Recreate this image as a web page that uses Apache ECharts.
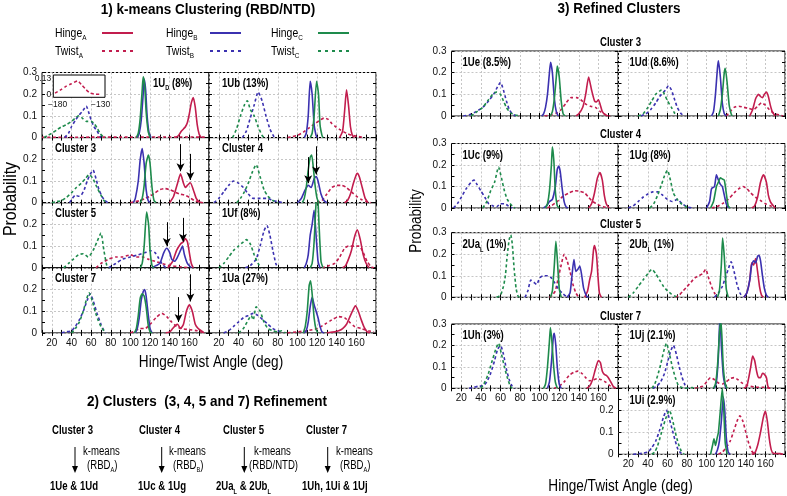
<!DOCTYPE html>
<html><head><meta charset="utf-8">
<script src="https://cdn.jsdelivr.net/npm/echarts@6/dist/echarts.min.js"></script>
<style>html,body{margin:0;padding:0;background:#fff}#c{width:787px;height:496px}</style>
</head><body><div id="c"></div><script>
const FONT = "'Liberation Sans',Arial,sans-serif";
const CA = '#c21d4e', CB = '#3b31b0', CC = '#1e8b4c';
const GRIDC = '#c6c6c6';

// ---- Section 1: k-means clusters (x = angle deg, y = probability) ----
const D1_hA = [[146,0],[149,0.01],[152,0.03],[154,0.04],[156,0.05],[158,0.07],[160,0.11],[162,0.16],[164,0.185],[166,0.14],[168,0.06],[170,0.015],[172,0]];
const D1_tA = [[10,0.001],[60,0.002],[100,0.002],[140,0.003],[178,0.002]];
const D1_hB = [[107,0],[109,0.02],[111,0.08],[113,0.2],[114,0.27],[115.5,0.22],[117,0.1],[119,0.02],[121,0]];
const D1_tB = [[33,0],[37,0.02],[40,0.05],[44,0.08],[47,0.1],[51,0.12],[55,0.145],[58,0.11],[60,0.08],[63,0.05],[66,0.03],[70,0]];
const D1_hC = [[106,0],[108,0.02],[110,0.09],[112,0.22],[113,0.28],[114.5,0.24],[116,0.12],[118,0.03],[120,0]];
const D1_tC = [[12,0],[16,0.01],[20,0.02],[25,0.035],[30,0.05],[35,0.06],[40,0.075],[44,0.09],[47,0.1],[51,0.09],[55,0.075],[60,0.075],[63,0.065],[66,0.045],[69,0.02],[72,0.005],[75,0]];
const D1_inset_tA = [[-183,0.01],[-176,0.04],[-170,0.07],[-164,0.09],[-157,0.115],[-152,0.08],[-147,0.04],[-142,0.01],[-136,0.002],[-130,0.002]];
const insetXTicks = [-180,-130];
const insetYTicks = [0,0.13];

const Ub_hA = [[143,0],[146,0.03],[148,0.12],[150,0.22],[152,0.15],[154,0.05],[156,0.01],[158,0]];
const Ub_tA = [[90,0],[95,0.005],[100,0.01],[106,0.025],[112,0.045],[118,0.065],[123,0.08],[127,0.09],[131,0.085],[135,0.065],[139,0.05],[144,0.035],[150,0.02],[156,0.01],[162,0.005],[168,0]];
const Ub_hB = [[107,0],[109,0.02],[111,0.1],[113,0.26],[115,0.2],[117,0.06],[119,0.01],[120,0]];
const Ub_tB = [[44,0],[48,0.03],[52,0.09],[56,0.15],[60,0.21],[64,0.17],[68,0.1],[72,0.04],[76,0.005],[78,0]];
const Ub_hC = [[113,0],[115,0.02],[117,0.1],[119.5,0.26],[121.5,0.2],[123,0.06],[125,0.01],[126,0]];
const Ub_tC = [[34,0],[38,0.04],[42,0.1],[46,0.15],[49,0.17],[52,0.13],[56,0.1],[60,0.05],[64,0.01],[66,0]];

const C3_hA = [[140,0],[144,0.03],[148,0.09],[151,0.133],[154,0.09],[156,0.07],[158,0.08],[161,0.092],[164,0.06],[167,0.02],[170,0.005],[173,0]];
const C3_tA = [[100,0],[105,0.005],[110,0.01],[115,0.02],[120,0.03],[125,0.045],[130,0.06],[135,0.065],[140,0.06],[145,0.05],[150,0.04],[155,0.035],[160,0.025],[165,0.01],[170,0.003],[174,0]];
const C3_hB = [[103,0],[105,0.02],[108,0.1],[110,0.2],[112,0.25],[114,0.18],[116,0.06],[118,0.01],[120,0]];
const C3_tB = [[38,0],[41,0.02],[44,0.035],[47,0.03],[50,0.035],[53,0.06],[56,0.1],[59,0.13],[62,0.15],[65,0.11],[68,0.06],[71,0.03],[74,0.01],[77,0]];
const C3_hC = [[110,0],[112,0.02],[114,0.08],[116,0.18],[118.3,0.22],[120,0.18],[122,0.07],[124,0.01],[126,0]];
const C3_tC = [[20,0],[25,0.005],[30,0.01],[35,0.025],[40,0.045],[45,0.07],[50,0.09],[54,0.11],[58,0.13],[62,0.11],[66,0.07],[70,0.035],[73,0.01],[76,0]];
const C3_arrows = [[151,0.27,0.145],[161,0.225,0.105]];

const C4_hA = [[148,0],[151,0.01],[154,0.04],[157,0.09],[160,0.13],[161,0.135],[163,0.12],[166,0.07],[169,0.02],[172,0]];
const C4_tA = [[120,0],[125,0.01],[130,0.04],[135,0.07],[140,0.08],[145,0.08],[150,0.07],[155,0.05],[160,0.03],[165,0.015],[170,0.005],[175,0]];
const C4_hB = [[100,0],[104,0.02],[108,0.06],[111,0.08],[114,0.07],[117,0.11],[119,0.12],[121,0.1],[124,0.04],[127,0.01],[130,0]];
const C4_tB = [[15,0],[20,0.02],[25,0.05],[30,0.08],[35,0.1],[40,0.09],[45,0.07],[50,0.04],[55,0.02],[60,0.02],[65,0.02],[70,0.02],[75,0.01],[80,0.005],[85,0]];
const C4_hC = [[105,0],[107,0.02],[109,0.07],[111,0.15],[113,0.21],[114.5,0.22],[116,0.17],[118,0.08],[120,0.02],[122,0]];
const C4_tC = [[38,0],[42,0.02],[46,0.05],[50,0.09],[54,0.14],[58,0.175],[62,0.12],[66,0.06],[70,0.03],[75,0.01],[80,0]];
const C4_arrows = [[111,0.21,0.09],[119,0.26,0.13]];

const C5_hA = [[138,0],[143,0.03],[147,0.08],[151,0.11],[154,0.12],[156,0.135],[158,0.12],[160,0.07],[162,0.02],[164,0]];
const C5_tA = [[65,0],[70,0.02],[78,0.04],[85,0.05],[92,0.05],[100,0.06],[106,0.05],[112,0.05],[118,0.04],[125,0.03],[132,0.02],[140,0.01],[150,0.005],[160,0]];
const C5_hB = [[122,0],[126,0.01],[130,0.02],[134,0.07],[137,0.09],[140,0.07],[142,0.04],[145,0.03],[148,0.05],[151,0.08],[153,0.1],[155,0.06],[158,0.02],[162,0]];
const C5_tB = [[78,0],[85,0.02],[92,0.04],[100,0.05],[108,0.06],[115,0.07],[120,0.08],[125,0.07],[128,0.05],[132,0.02],[136,0]];
const C5_hC = [[110,0],[112,0.02],[114,0.1],[116.5,0.257],[118.5,0.2],[120,0.08],[122,0.01],[124,0]];
const C5_tC = [[32,0],[37,0.02],[42,0.04],[47,0.06],[52,0.065],[57,0.05],[62,0.08],[66,0.12],[70,0.16],[73,0.08],[76,0.01],[78,0]];
const C5_arrows = [[137,0.21,0.1],[153.5,0.23,0.12]];

const Uf_hA = [[146,0],[149,0.01],[152,0.04],[155,0.08],[158,0.14],[161,0.175],[164,0.13],[167,0.06],[170,0.02],[173,0]];
const Uf_tA = [[125,0],[132,0.01],[138,0.02],[143,0.05],[148,0.09],[152,0.1],[158,0.1],[163,0.1],[167,0.07],[171,0.03],[175,0.005],[178,0]];
const Uf_hB = [[107,0],[109,0.02],[111,0.06],[113,0.15],[115,0.2],[117,0.265],[119,0.15],[121,0.03],[123,0]];
const Uf_tB = [[47,0],[52,0.01],[58,0.04],[62,0.1],[66,0.17],[69,0.195],[72,0.15],[75,0.08],[78,0.02],[80,0]];
const Uf_hC = [[113,0],[115,0.02],[117,0.12],[119,0.3],[120.5,0.34],[122,0.2],[124,0.03],[126,0]];
const Uf_tC = [[20,0],[25,0.02],[30,0.05],[35,0.08],[40,0.1],[45,0.12],[48,0.13],[52,0.11],[56,0.06],[60,0.02],[63,0]];

const C7_hA = [[136,0],[140,0.005],[143,0.02],[146,0.035],[148,0.04],[151,0.02],[154,0.04],[157,0.1],[160,0.13],[163,0.1],[166,0.04],[169,0.02],[172,0.01],[175,0]];
const C7_tA = [[100,0],[105,0.01],[110,0.02],[115,0.02],[120,0.04],[126,0.07],[132,0.09],[137,0.075],[142,0.05],[147,0.03],[152,0.02],[160,0.015],[168,0.01],[175,0]];
const C7_hB = [[105,0],[107,0.02],[109,0.07],[111,0.15],[113,0.19],[114.5,0.2],[116,0.17],[118,0.09],[120,0.02],[122,0]];
const C7_tB = [[30,0],[35,0.005],[40,0.01],[44,0.03],[48,0.06],[52,0.1],[56,0.15],[59,0.18],[62,0.15],[66,0.09],[70,0.04],[73,0.01],[75,0]];
const C7_hC = [[104,0],[106,0.02],[108,0.08],[110,0.16],[112,0.18],[114,0.17],[116,0.12],[118,0.04],[120,0.005],[122,0]];
const C7_tC = [[40,0],[44,0.02],[48,0.05],[52,0.1],[55,0.15],[58,0.185],[61,0.15],[64,0.1],[67,0.06],[70,0.03],[73,0.01],[75,0]];
const C7_arrows = [[149,0.165,0.05],[161,0.27,0.145]];

const Ua_hA = [[130,0],[134,0.003],[138,0.005],[142,0.01],[146,0.02],[150,0.04],[153,0.07],[156,0.1],[159,0.125],[162,0.1],[165,0.06],[168,0.025],[171,0.005],[174,0]];
const Ua_tA = [[90,0],[100,0.005],[110,0.01],[120,0.02],[128,0.04],[135,0.06],[142,0.075],[148,0.07],[153,0.05],[158,0.03],[165,0.02],[172,0.01],[178,0.005]];
const Ua_hB = [[107,0],[109,0.01],[111,0.05],[113,0.12],[115,0.165],[117,0.13],[119,0.1],[121,0.07],[123,0.03],[125,0.005],[127,0]];
const Ua_tB = [[25,0],[30,0.01],[35,0.03],[40,0.05],[45,0.07],[50,0.08],[55,0.09],[60,0.08],[65,0.06],[70,0.04],[75,0.02],[80,0.01],[85,0]];
const Ua_hC = [[106,0],[108,0.03],[110,0.1],[112,0.22],[113.4,0.24],[115,0.18],[117,0.07],[119,0.015],[121,0]];
const Ua_tC = [[40,0],[45,0.02],[50,0.06],[53,0.08],[55,0.06],[58,0.12],[62,0.1],[66,0.05],[70,0.02],[75,0.01],[80,0.005],[84,0.01],[88,0]];

// ---- Section 3: refined clusters ----
const Ue_hA = [[137,0],[140,0.01],[144,0.04],[147,0.1],[150,0.18],[153,0.12],[156,0.07],[158,0.065],[160,0.075],[162,0.05],[164,0.02],[167,0.005],[170,0]];
const Ue_tA = [[105,0],[112,0.005],[118,0.015],[122,0.03],[127,0.06],[132,0.085],[138,0.085],[142,0.075],[147,0.055],[152,0.045],[157,0.04],[162,0.02],[168,0.005],[172,0]];
const Ue_hB = [[102,0],[104,0.01],[106,0.04],[108,0.1],[110,0.2],[111.2,0.248],[113,0.2],[115,0.08],[117,0.02],[119,0]];
const Ue_tB = [[22,0],[28,0.005],[35,0.02],[42,0.04],[48,0.07],[53,0.1],[57,0.135],[60,0.155],[63,0.12],[66,0.07],[69,0.03],[72,0.01],[76,0]];
const Ue_hC = [[111,0],[113,0.02],[115,0.08],[117,0.18],[118,0.23],[120,0.18],[122,0.07],[124,0.01],[126,0]];
const Ue_tC = [[30,0],[36,0.02],[42,0.04],[47,0.07],[52,0.1],[56,0.11],[60,0.1],[63,0.07],[66,0.04],[70,0.015],[75,0.005],[80,0]];

const Ud_hA = [[144,0],[147,0.03],[150,0.08],[153,0.1],[155,0.09],[157,0.085],[159,0.1],[161,0.11],[163,0.09],[165,0.05],[167,0.02],[170,0]];
const Ud_tA = [[120,0],[124,0.02],[128,0.04],[133,0.045],[138,0.04],[143,0.035],[148,0.03],[152,0.045],[156,0.06],[160,0.05],[164,0.03],[168,0.015],[174,0.005],[178,0]];
const Ud_hB = [[105,0],[107,0.02],[109,0.1],[111,0.22],[112,0.255],[114,0.18],[116,0.06],[118,0.01],[120,0]];
const Ud_tB = [[33,0],[38,0.01],[43,0.03],[48,0.06],[52,0.09],[56,0.11],[58,0.12],[61,0.14],[64,0.12],[67,0.08],[70,0.04],[74,0.01],[78,0]];
const Ud_hC = [[112,0],[114,0.03],[116,0.1],[118,0.2],[119,0.22],[121,0.15],[123,0.05],[125,0.01],[126,0]];
const Ud_tC = [[30,0],[35,0.01],[40,0.04],[44,0.07],[48,0.1],[52,0.115],[54,0.12],[57,0.1],[60,0.07],[64,0.04],[67,0.015],[70,0]];

const Uc_hA = [[150,0],[153,0.02],[156,0.07],[159,0.14],[161.5,0.165],[164,0.13],[166,0.06],[168,0.02],[171,0]];
const Uc_tA = [[108,0],[112,0.01],[118,0.03],[124,0.055],[130,0.07],[136,0.08],[141,0.078],[146,0.07],[150,0.05],[154,0.03],[158,0.02],[162,0.01],[166,0.005],[170,0]];
const Uc_hB = [[104,0],[107,0.01],[110,0.03],[113,0.04],[116,0.1],[118,0.18],[119.5,0.195],[121,0.17],[123,0.09],[125,0.03],[127,0.005],[129,0]];
const Uc_tB = [[12,0],[16,0.02],[20,0.05],[25,0.09],[30,0.12],[33,0.13],[36,0.11],[40,0.08],[44,0.05],[48,0.02],[52,0.01],[56,0.005],[60,0.02],[64,0.02],[68,0.01],[72,0]];
const Uc_hC = [[106,0],[108,0.02],[110,0.08],[112,0.2],[113,0.285],[114.5,0.22],[116,0.08],[118,0.01],[120,0]];
const Uc_tC = [[42,0],[46,0.03],[50,0.08],[54,0.12],[58,0.19],[61,0.14],[64,0.08],[67,0.04],[70,0.02],[73,0.005],[75,0]];

const Ug_hA = [[146,0],[149,0.01],[152,0.05],[155,0.12],[158,0.155],[161,0.12],[163,0.06],[165,0.03],[168,0.01],[170,0]];
const Ug_tA = [[105,0],[110,0.005],[116,0.02],[122,0.04],[128,0.07],[133,0.09],[137,0.1],[141,0.09],[145,0.07],[150,0.05],[155,0.035],[160,0.02],[165,0.01],[170,0]];
const Ug_hB = [[100,0],[103,0.03],[105,0.09],[108,0.1],[110,0.155],[112,0.13],[114,0.11],[116,0.1],[118,0.06],[120,0.02],[122,0]];
const Ug_tB = [[20,0],[25,0.01],[30,0.03],[35,0.05],[40,0.065],[45,0.075],[50,0.075],[55,0.06],[60,0.04],[65,0.03],[70,0.04],[75,0.02],[80,0.005],[85,0]];
const Ug_hC = [[104,0],[107,0.03],[110,0.1],[112,0.12],[114,0.14],[116,0.135],[118,0.13],[120,0.07],[122,0.01],[124,0]];
const Ug_tC = [[42,0],[46,0.02],[50,0.06],[54,0.11],[57,0.15],[60,0.175],[63,0.13],[66,0.07],[70,0.04],[74,0.02],[78,0.01],[80,0]];

const Ua2_hA = [[146,0],[149,0.03],[151,0.08],[153,0.12],[155,0.22],[156,0.24],[158,0.2],[159.5,0.1],[161,0.02],[163,0]];
const Ua2_tA = [[110,0],[113,0.01],[116,0.03],[119,0.09],[122,0.15],[125,0.2],[128,0.17],[131,0.12],[134,0.06],[137,0.02],[140,0]];
const Ua2_hB = [[128,0],[131,0.02],[133,0.1],[135,0.175],[137,0.12],[139,0.13],[141,0.145],[143,0.1],[145,0.04],[148,0.005],[150,0]];
const Ua2_tB = [[85,0],[88,0.03],[91,0.08],[94,0.07],[97,0.06],[100,0.09],[104,0.1],[108,0.1],[112,0.09],[115,0.07],[119,0.04],[123,0.02],[127,0.005],[130,0]];
const Ua2_hC = [[111,0],[113,0.03],[115,0.15],[116.6,0.26],[118,0.18],[120,0.04],[122,0]];
const Ua2_tC = [[56,0],[60,0.01],[63,0.05],[65,0.1],[67,0.2],[69,0.27],[70.5,0.29],[72,0.25],[74,0.13],[76,0.04],[78,0.005],[80,0]];

const Ub2_hA = [[138,0],[141,0.02],[144,0.08],[146,0.16],[148,0.15],[150,0.18],[152,0.12],[154,0.05],[156,0.01],[158,0]];
const Ub2_tA = [[68,0],[72,0.01],[76,0.03],[80,0.05],[84,0.07],[88,0.09],[92,0.1],[96,0.11],[99,0.13],[102,0.09],[105,0.05],[108,0.02],[111,0]];
const Ub2_hB = [[138,0],[141,0.02],[144,0.08],[146,0.15],[148,0.17],[150,0.16],[152,0.19],[153.5,0.195],[155,0.17],[157,0.1],[159,0.04],[161,0.01],[163,0]];
const Ub2_tB = [[108,0],[112,0.02],[116,0.05],[119,0.09],[122,0.13],[125,0.165],[128,0.12],[131,0.06],[134,0.02],[137,0]];
const Ub2_hC = [[111,0],[113,0.03],[115,0.15],[116.3,0.275],[118,0.19],[120,0.04],[122,0]];
const Ub2_tC = [[20,0],[25,0.02],[30,0.05],[35,0.08],[40,0.11],[44,0.13],[48,0.11],[52,0.08],[56,0.05],[60,0.03],[64,0.015],[68,0.005],[72,0]];

const Uh_hA = [[148,0],[151,0.01],[154,0.04],[157,0.09],[160,0.13],[162,0.12],[164,0.08],[166,0.065],[168,0.06],[170,0.05],[172,0.035],[175,0.01],[178,0]];
const Uh_tA = [[115,0],[120,0.01],[125,0.03],[130,0.06],[135,0.075],[139,0.08],[143,0.07],[147,0.05],[151,0.035],[155,0.04],[159,0.045],[163,0.04],[167,0.03],[171,0.015],[175,0]];
const Uh_hB = [[108,0],[110,0.03],[112,0.12],[114,0.24],[115,0.257],[116.5,0.2],[118,0.1],[120,0.02],[122,0]];
const Uh_tB = [[28,0],[33,0.005],[38,0.01],[42,0.01],[46,0.03],[50,0.07],[54,0.13],[57,0.18],[60,0.2],[63,0.16],[66,0.09],[69,0.04],[72,0.01],[75,0]];
const Uh_hC = [[104,0],[106,0.02],[108,0.1],[110,0.22],[111,0.283],[112.5,0.22],[114,0.12],[116,0.03],[118,0]];
const Uh_tC = [[40,0],[43,0.02],[47,0.06],[51,0.12],[55,0.18],[58,0.21],[61,0.16],[64,0.1],[67,0.05],[70,0.01],[72,0]];

const Uj_hA = [[138,0],[141,0.01],[143,0.05],[145,0.1],[147,0.15],[149,0.13],[151,0.08],[153,0.05],[155,0.05],[157,0.07],[159,0.065],[161,0.05],[162.5,0.01],[164,0]];
const Uj_tA = [[88,0],[92,0.005],[96,0.01],[100,0.03],[104,0.05],[108,0.04],[112,0.025],[116,0.02],[120,0.03],[124,0.045],[128,0.05],[132,0.04],[136,0.025],[140,0.015],[145,0.01],[150,0.005],[158,0.005],[165,0]];
const Uj_hB = [[108,0],[110,0.03],[112,0.15],[113.6,0.34],[115,0.2],[117,0.06],[119,0.01],[120,0]];
const Uj_tB = [[45,0],[49,0.01],[53,0.03],[57,0.07],[60,0.12],[63,0.17],[66,0.2],[69,0.16],[72,0.1],[75,0.05],[78,0.015],[81,0]];
const Uj_hC = [[107,0],[109,0.02],[111,0.1],[113,0.25],[114.3,0.32],[115.5,0.25],[117,0.1],[119,0.02],[121,0]];
const Uj_tC = [[44,0],[47,0.02],[50,0.06],[53,0.11],[56,0.17],[59,0.21],[62,0.16],[65,0.1],[68,0.05],[71,0.015],[74,0.005],[78,0],[85,0.003],[90,0]];

const Ui_hA = [[146,0],[149,0.005],[152,0.04],[155,0.1],[158,0.17],[160,0.197],[162,0.15],[164,0.07],[166,0.02],[168,0.005],[175,0.003],[178,0]];
const Ui_tA = [[112,0],[116,0.01],[120,0.03],[124,0.06],[128,0.11],[131,0.15],[134,0.175],[137,0.15],[140,0.1],[143,0.05],[146,0.015],[149,0]];
const Ui_hB = [[109,0],[111,0.02],[113,0.06],[115,0.15],[117,0.26],[118.5,0.2],[120,0.08],[122,0.01],[124,0]];
const Ui_tB = [[25,0],[30,0.002],[35,0.005],[40,0.01],[44,0.03],[48,0.06],[52,0.11],[56,0.17],[59,0.2],[62,0.16],[65,0.11],[68,0.06],[71,0.02],[74,0.005],[77,0]];
const Ui_hC = [[104,0],[106,0.04],[107.5,0.07],[109,0.04],[110.5,0.07],[112,0.1],[114,0.2],[116,0.3],[117.5,0.2],[119,0.05],[121,0]];
const Ui_tC = [[44,0],[47,0.01],[50,0.04],[54,0.1],[58,0.16],[62,0.2],[65,0.16],[68,0.1],[71,0.05],[74,0.015],[77,0]];

// tick labels shown
const xTickLabels = [20,40,60,80,100,120,140,160];
const yTickLabels = [0,0.1,0.2,0.3];

// ---- layout ----
const L1 = 42, L2 = 209, W1 = 167;
const R1 = 451.5, R2 = 618.5, W2 = 166.5;
const panels = [
  {rect:[L1,72.5,W1,65.1], xl:false, yl:'full', lab:[['1U',0],['D',1],[' (8%)',0]], lx:153, d:[D1_hA,D1_tA,D1_hB,D1_tB,D1_hC,D1_tC]},
  {rect:[L2,72.5,W1,65.1], xl:false, yl:'none', lab:[['1Ub (13%)',0]], d:[Ub_hA,Ub_tA,Ub_hB,Ub_tB,Ub_hC,Ub_tC]},
  {rect:[L1,137.6,W1,65.1], xl:false, yl:'no3', lab:[['Cluster 3',0]], d:[C3_hA,C3_tA,C3_hB,C3_tB,C3_hC,C3_tC], ar:C3_arrows},
  {rect:[L2,137.6,W1,65.1], xl:false, yl:'none', lab:[['Cluster 4',0]], d:[C4_hA,C4_tA,C4_hB,C4_tB,C4_hC,C4_tC], ar:C4_arrows},
  {rect:[L1,202.7,W1,65.1], xl:false, yl:'no3', lab:[['Cluster 5',0]], d:[C5_hA,C5_tA,C5_hB,C5_tB,C5_hC,C5_tC], ar:C5_arrows},
  {rect:[L2,202.7,W1,65.1], xl:false, yl:'none', lab:[['1Uf (8%)',0]], d:[Uf_hA,Uf_tA,Uf_hB,Uf_tB,Uf_hC,Uf_tC]},
  {rect:[L1,267.8,W1,65.1], xl:true, yl:'no3', lab:[['Cluster 7',0]], d:[C7_hA,C7_tA,C7_hB,C7_tB,C7_hC,C7_tC], ar:C7_arrows},
  {rect:[L2,267.8,W1,65.1], xl:true, yl:'none', lab:[['1Ua (27%)',0]], d:[Ua_hA,Ua_tA,Ua_hB,Ua_tB,Ua_hC,Ua_tC]},
  {rect:[R1,51,W2,65], xl:false, yl:'full', lab:[['1Ue (8.5%)',0]], d:[Ue_hA,Ue_tA,Ue_hB,Ue_tB,Ue_hC,Ue_tC], rs:true},
  {rect:[R2,51,W2,65], xl:false, yl:'none', lab:[['1Ud (8.6%)',0]], d:[Ud_hA,Ud_tA,Ud_hB,Ud_tB,Ud_hC,Ud_tC], rs:true},
  {rect:[R1,143.5,W2,64.5], xl:false, yl:'full', lab:[['1Uc (9%)',0]], d:[Uc_hA,Uc_tA,Uc_hB,Uc_tB,Uc_hC,Uc_tC], rs:true},
  {rect:[R2,143.5,W2,64.5], xl:false, yl:'none', lab:[['1Ug (8%)',0]], d:[Ug_hA,Ug_tA,Ug_hB,Ug_tB,Ug_hC,Ug_tC], rs:true},
  {rect:[R1,232.7,W2,64.6], xl:false, yl:'full', lab:[['2Ua',0],['L',1],[' (1%)',0]], d:[Ua2_hA,Ua2_tA,Ua2_hB,Ua2_tB,Ua2_hC,Ua2_tC], rs:true},
  {rect:[R2,232.7,W2,64.6], xl:false, yl:'none', lab:[['2Ub',0],['L',1],[' (1%)',0]], d:[Ub2_hA,Ub2_tA,Ub2_hB,Ub2_tB,Ub2_hC,Ub2_tC], rs:true},
  {rect:[R1,324,W2,64.3], xl:true, yl:'full', lab:[['1Uh (3%)',0]], d:[Uh_hA,Uh_tA,Uh_hB,Uh_tB,Uh_hC,Uh_tC], rs:true},
  {rect:[R2,324,W2,64.3], xl:false, yl:'none', lab:[['1Uj (2.1%)',0]], d:[Uj_hA,Uj_tA,Uj_hB,Uj_tB,Uj_hC,Uj_tC], rs:true},
  {rect:[R2,388.3,W2,66], xl:true, yl:'no3', lab:[['1Ui (2.9%)',0]], d:[Ui_hA,Ui_tA,Ui_hB,Ui_tB,Ui_hC,Ui_tC], rs:true}
];

const TRANSP = 'rgba(0,0,0,0)';
const grids = [], xAxes = [], yAxes = [], series = [], graphics = [];
const cols = [CA,CA,CB,CB,CC,CC];
const TICKFS = 10;

function richFor(size, bold) {
  const w = bold ? 'bold' : 'normal';
  return {
    m: {fontSize:size, fontFamily:FONT, fontWeight:w, fill:'#000'},
    s: {fontSize:Math.round(size*0.62), fontFamily:FONT, fontWeight:w, fill:'#000', padding:[Math.round(size*0.8),0,0,0], verticalAlign:'bottom'}
  };
}
// narrow-looking text via horizontal scaling (reference uses a condensed face)
function label(x, y, parts, size, bold, align, sx, rot) {
  const text = parts.map(p => '{' + (p[1] ? 's' : 'm') + '|' + p[0] + '}').join('');
  return {type:'text', x, y, rotation: rot || 0, scaleX: sx || 1, silent:true, z:100,
    style:{text, fontSize:size, fontFamily:FONT, fontWeight: bold?'bold':'normal', fill:'#000',
      textAlign: align || 'left', textVerticalAlign:'middle', rich: richFor(size, bold)}};
}

panels.forEach((p, i) => {
  const [l,t,w,h] = p.rect;
  grids.push({left:l, top:t, width:w, height:h, show:true, borderColor:'#000', borderWidth:1,
    backgroundColor:TRANSP, containLabel:false, outerBoundsMode:'none'});
  const tick = {show:true, inside:true, length:3, lineStyle:{color:'#000', width:1}};
  xAxes.push({type:'value', gridIndex:i, min:10, max:180, interval:10, position:'bottom',
    axisLine:{show:false}, axisTick:tick,
    axisLabel:{show:p.xl, fontSize:TICKFS, fontFamily:FONT, color:'#111', margin:5,
      formatter: v => xTickLabels.indexOf(Math.round(v)) >= 0 ? String(Math.round(v)) : ''},
    splitLine:{show:true, showMinLine:true, showMaxLine:true, lineStyle:{color:[TRANSP, GRIDC], type:[2,2], width:1}}});
  xAxes.push({type:'value', gridIndex:i, min:10, max:180, interval:10, position:'top',
    axisLine:{show:false}, axisTick:tick, axisLabel:{show:false}, splitLine:{show:false}});
  yAxes.push({type:'value', gridIndex:i, min:0, max:0.3, interval:0.05, position:'left',
    axisLine:{show:false}, axisTick:tick,
    axisLabel:{show:p.yl !== 'none', fontSize:TICKFS, fontFamily:FONT, color:'#111', margin:5,
      formatter: v => {
        const k = Math.round(v*100);
        if (k % 10) return '';
        if (k === 30 && p.yl === 'no3') return '';
        const val = k/100;
        if (yTickLabels.indexOf(val) < 0) return '';
        return k === 0 ? '0' : val.toFixed(1);
      }},
    splitLine:{show:true, showMinLine:true, showMaxLine:true, lineStyle:{color:[GRIDC, TRANSP], type:[2,2], width:1}}});
  yAxes.push({type:'value', gridIndex:i, min:0, max:0.3, interval:0.05, position:'right',
    axisLine:{show:false}, axisTick:tick, axisLabel:{show:false}, splitLine:{show:false}});

  p.d.forEach((data, k) => {
    const s = {type:'line', xAxisIndex:2*i, yAxisIndex:2*i, data, symbol:'none', showSymbol:false,
      smooth:0.2, clip:true, silent:true, animation:false, z: (k%2) ? 2 : 3,
      lineStyle:{color:cols[k], width:1.6, type:(k%2) ? [3,2.5] : 'solid'}};
    if (k === 0 && p.ar) {
      s.markLine = {silent:true, animation:false, symbol:['none','arrow'], symbolSize:[6,8],
        lineStyle:{color:'#000', width:1, type:'solid'}, label:{show:false},
        data: p.ar.map(a => [{coord:[a[0], a[1]]}, {coord:[a[0], a[2]]}])};
    }
    series.push(s);
  });

  const lx = p.lx != null ? p.lx : l + (p.rs ? 11 : 13);
  const ly = t + (p.rs ? 12 : 11);
  graphics.push(label(lx, ly, p.lab, 12, true, 'left', 0.8));
});

// inset (Twist A at negative angles) in the 1U_D panel
const ig = grids.length;
grids.push({left:53.3, top:75, width:51.7, height:22.3, show:true, borderColor:'#000', borderWidth:1,
  backgroundColor:'#fff', containLabel:false, outerBoundsMode:'none', z:5});
xAxes.push({type:'value', gridIndex:ig, min:-185, max:-125, position:'bottom', z:6,
  axisLine:{show:false}, axisTick:{show:false}, splitLine:{show:false},
  axisLabel:{show:true, customValues:insetXTicks, fontSize:8.5, fontFamily:FONT, color:'#111', margin:3,
    formatter: v => '\u2212' + Math.abs(Math.round(v))}});
yAxes.push({type:'value', gridIndex:ig, min:-0.025, max:0.165, position:'left', z:6,
  axisLine:{show:false}, axisTick:{show:false}, splitLine:{show:false},
  axisLabel:{show:true, customValues:insetYTicks, fontSize:8.5, fontFamily:FONT, color:'#111', margin:2,
    formatter: v => (Math.abs(v) < 1e-6 ? '0' : String(Math.round(v*100)/100))}});
series.push({type:'line', xAxisIndex:xAxes.length-1, yAxisIndex:yAxes.length-1, data:D1_inset_tA,
  symbol:'none', smooth:0.2, silent:true, animation:false, z:7,
  lineStyle:{color:CA, width:1.5, type:[3,2.5]}});

// titles
graphics.push(label(208, 10, [['1) k-means Clustering (RBD/NTD)',0]], 15, true, 'center', 0.9));
graphics.push(label(619, 9, [['3) Refined Clusters',0]], 15, true, 'center', 0.9));
graphics.push(label(207, 402, [['2) Clusters  (3, 4, 5 and 7) Refinement',0]], 15, true, 'center', 0.9));

// legend
const legendRows = [
  {x:55, lx:[102,133], y:33, t:['Hinge','A'], c:CA, dash:false},
  {x:55, lx:[102,133], y:51, t:['Twist','A'], c:CA, dash:true},
  {x:166, lx:[210,241], y:33, t:['Hinge','B'], c:CB, dash:false},
  {x:166, lx:[210,241], y:51, t:['Twist','B'], c:CB, dash:true},
  {x:271, lx:[318,349], y:33, t:['Hinge','C'], c:CC, dash:false},
  {x:271, lx:[318,349], y:51, t:['Twist','C'], c:CC, dash:true}
];
legendRows.forEach(r => {
  graphics.push(label(r.x, r.y, [[r.t[0],0],[r.t[1],1]], 13, false, 'left', 0.8));
  graphics.push({type:'line', silent:true, z:100, shape:{x1:r.lx[0], y1:r.y, x2:r.lx[1], y2:r.y},
    style:{stroke:r.c, lineWidth:2, lineDash: r.dash ? [3,4] : null}});
});

// axis titles
graphics.push(label(211, 363, [['Hinge/Twist Angle (deg)',0]], 16, false, 'center', 0.85));
graphics.push(label(620.5, 487, [['Hinge/Twist Angle (deg)',0]], 16, false, 'center', 0.85));
graphics.push(label(11, 199, [['Probability',0]], 18, false, 'center', 0.88, Math.PI/2));
graphics.push(label(417, 221, [['Probability',0]], 16, false, 'center', 0.85, Math.PI/2));

// cluster row headers (section 3)
[['Cluster 3',43],['Cluster 4',135],['Cluster 5',225],['Cluster 7',317]].forEach(c => {
  graphics.push(label(620.5, c[1], [[c[0],0]], 12, true, 'center', 0.8));
});

// section 2 diagram
const refine = [
  {cx:52, head:'Cluster 3', ax:75, km:83, sub:[['(RBD',0],['A',1],[')',0]], sx:87, res:[['1Ue & 1Ud',0]], rx:50},
  {cx:139, head:'Cluster 4', ax:161.7, km:169, sub:[['(RBD',0],['B',1],[')',0]], sx:173, res:[['1Uc & 1Ug',0]], rx:138},
  {cx:223, head:'Cluster 5', ax:244.3, km:254, sub:[['(RBD/NTD)',0]], sx:249, res:[['2Ua',0],['L',1],[' & 2Ub',0],['L',1]], rx:216},
  {cx:306, head:'Cluster 7', ax:327.7, km:336, sub:[['(RBD',0],['A',1],[')',0]], sx:340, res:[['1Uh, 1Ui & 1Uj',0]], rx:302}
];
refine.forEach(r => {
  graphics.push(label(r.cx, 431, [[r.head,0]], 12, true, 'left', 0.8));
  graphics.push({type:'line', silent:true, z:100, shape:{x1:r.ax, y1:447, x2:r.ax, y2:468}, style:{stroke:'#000', lineWidth:1}});
  graphics.push({type:'polygon', silent:true, z:100, shape:{points:[[r.ax-3,466],[r.ax+3,466],[r.ax,473]]}, style:{fill:'#000'}});
  graphics.push(label(r.km, 452, [['k-means',0]], 12, false, 'left', 0.8));
  graphics.push(label(r.sx, 465.5, r.sub, 12, false, 'left', 0.8));
  graphics.push(label(r.rx, 487, r.res, 12, true, 'left', 0.8));
});

const chart = echarts.init(document.getElementById('c'), null, {renderer:'canvas'});
chart.setOption({
  animation:false,
  backgroundColor:'#fff',
  textStyle:{fontFamily:FONT},
  grid:grids, xAxis:xAxes, yAxis:yAxes, series, graphic:graphics
});
</script></body></html>
